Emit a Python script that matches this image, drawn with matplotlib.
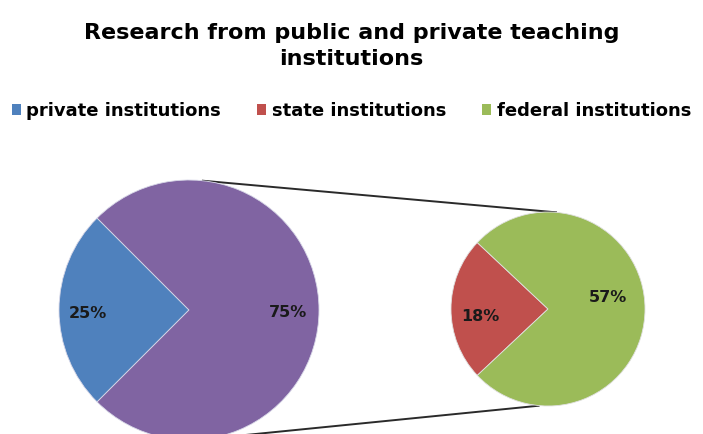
import numpy as np
import matplotlib
matplotlib.use("Agg")
import matplotlib.pyplot as plt
from matplotlib.patches import Patch

# Shares of research by institution type (percent)
categories = ["private institutions", "state institutions", "federal institutions"]
shares = [25, 18, 57]
colors = ["#4F81BD", "#C0504D", "#9BBB59"]
other_color = "#8064A2"

W, H = 703, 434
fig = plt.figure(figsize=(W / 100, H / 100), dpi=100)
ax = fig.add_axes([0, 0, 1, 1])

# Main pie: private vs. public (state + federal combined)
main_vals = [shares[0], shares[1] + shares[2]]
main_center = (189, H - 310)
main_r = 130
main_start = 180 - main_vals[0] / sum(main_vals) * 360 / 2

# Secondary pie: breakdown of public institutions
sub_vals = shares[1:]
sub_center = (548, H - 309)
sub_r = 97
sub_start = 180 - sub_vals[0] / sum(sub_vals) * 360 / 2

w_main, _ = ax.pie(main_vals, colors=[colors[0], other_color], startangle=main_start,
                   center=main_center, radius=main_r, counterclock=True,
                   wedgeprops=dict(linewidth=0.6, edgecolor="#d8d8e8"), frame=True)
w_sub, _ = ax.pie(sub_vals, colors=colors[1:], startangle=sub_start,
                  center=sub_center, radius=sub_r, counterclock=True,
                  wedgeprops=dict(linewidth=0.6, edgecolor="#e0e0e0"), frame=True)
ax.set_aspect("equal")
ax.set_xlim(0, W)
ax.set_ylim(0, H)
ax.axis("off")
for w in list(w_main) + list(w_sub):
    w.set_zorder(3)


def label_wedges(wedges, values, center, r, dist, nudges):
    for wd, v, d, (dx, dy) in zip(wedges, values, dist, nudges):
        mid = np.deg2rad((wd.theta1 + wd.theta2) / 2)
        x = center[0] + d * r * np.cos(mid) + dx
        y = center[1] + d * r * np.sin(mid) + dy
        ax.text(x, y, f"{v}%", ha="center", va="center", fontsize=11.5,
                fontweight="bold", color="#1a1a1a", family="DejaVu Sans", zorder=5)


label_wedges(w_main, main_vals, main_center, main_r, [0.78, 0.76], [(0, -3), (0, -3)])
label_wedges(w_sub, sub_vals, sub_center, sub_r, [0.70, 0.62], [(0, -7), (0, 12)])

# Connector lines between the combined wedge and the breakdown pie
def on_circle(center, r, deg):
    t = np.deg2rad(deg)
    return center[0] + r * np.cos(t), center[1] + r * np.sin(t)

for a_main, a_sub in [(84.3, 84.7), (-84.3, -95)]:
    p1 = on_circle(main_center, main_r, a_main)
    p2 = on_circle(sub_center, sub_r, a_sub)
    ax.plot([p1[0], p2[0]], [p1[1], p2[1]], color="#2a2a2a", lw=1.4, zorder=2,
            solid_capstyle="butt")

fig.text(0.5, 1 - 46 / H, "Research from public and private teaching\ninstitutions",
         ha="center", va="center", fontsize=16, fontweight="bold",
         family="DejaVu Sans", linespacing=1.4)

handles = [Patch(facecolor=c, edgecolor="none") for c in colors]
fig.legend(handles, categories, loc="center", bbox_to_anchor=(0.5, 1 - 111 / H),
           ncol=3, frameon=False, handlelength=0.5, handleheight=0.5,
           handletextpad=0.3, columnspacing=2.0,
           prop=dict(family="DejaVu Sans", size=13, weight="bold"))

fig.savefig("out.png", dpi=100)
